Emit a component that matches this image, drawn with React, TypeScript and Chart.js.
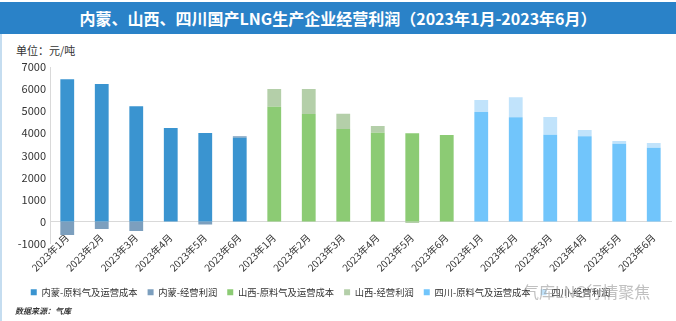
import React, { useEffect, useRef } from "react";
import { Chart, registerables, layouts } from "chart.js";

Chart.register(...registerables);

const months = ["2023年1月", "2023年2月", "2023年3月", "2023年4月", "2023年5月", "2023年6月"];
const categories = [...months, ...months, ...months];

const nmCost = [6450, 6230, 5220, 4236, 4010, 3800];
const nmProfit = [-610, -340, -420, 0, -130, 60];
const sxCost = [5200, 4870, 4190, 4025, 4000, 3920];
const sxProfit = [800, 1130, 690, 300, -60, 0];
const scCost = [4960, 4720, 3935, 3860, 3527, 3345];
const scProfit = [545, 905, 800, 286, 120, 212];

const yTicks = [-1000, 0, 1000, 2000, 3000, 4000, 5000, 6000, 7000];

const seriesNames = [
  "内蒙-原料气及运营成本",
  "内蒙-经营利润",
  "山西-原料气及运营成本",
  "山西-经营利润",
  "四川-原料气及运营成本",
  "四川-经营利润",
];
const seriesColors = ["#3a94d0", "#7c9fbe", "#8ccb74", "#b4cfa9", "#71c5fb", "#c1e3fb"];

const FONT = "'Noto Sans CJK SC', 'Noto Sans', sans-serif";

function place(values: number[], group: number): (number | null)[] {
  const out: (number | null)[] = categories.map(() => null);
  values.forEach((v, i) => {
    out[group * 6 + i] = v;
  });
  return out;
}

// reserves room below the plot for the x labels (the x axis itself sits at y = 0)
const spacerPlugin = {
  id: "labelSpacer",
  beforeInit(chart: any) {
    const box: any = {
      position: "bottom",
      weight: 500,
      fullSize: false,
      options: {},
      top: 0,
      left: 0,
      right: 0,
      bottom: 0,
      width: 0,
      height: 0,
      isHorizontal: () => true,
      update(maxWidth: number) {
        box.width = maxWidth;
        box.height = 34;
      },
      draw() {},
    };
    layouts.addBox(chart, box);
  },
};

export default function App() {
  const ref = useRef<HTMLCanvasElement | null>(null);

  useEffect(() => {
    if (!ref.current) return;
    const seriesData = [
      place(nmCost, 0),
      place(nmProfit, 0),
      place(sxCost, 1),
      place(sxProfit, 1),
      place(scCost, 2),
      place(scProfit, 2),
    ];
    const chart = new Chart(ref.current, {
      type: "bar",
      data: {
        labels: categories,
        datasets: seriesData.map((d, i) => ({
          label: seriesNames[i],
          data: d,
          backgroundColor: seriesColors[i],
          borderWidth: 0,
          stack: "s",
          categoryPercentage: 1,
          barPercentage: 0.4,
        })),
      },
      plugins: [spacerPlugin],
      options: {
        animation: false,
        responsive: false,
        maintainAspectRatio: false,
        layout: { padding: { left: -30, right: 5, top: 33, bottom: 14 } },
        plugins: {
          tooltip: { enabled: false },
          legend: {
            position: "bottom",
            labels: {
              boxWidth: 6,
              boxHeight: 6,
              padding: 10,
              color: "#333",
              font: { family: FONT, size: 9.3 },
            },
          },
        },
        scales: {
          x: {
            stacked: true,
            position: { y: 0 } as any,
            grid: { display: false },
            border: { display: true, color: "#d9d9d9", width: 1 },
            ticks: {
              minRotation: 45,
              maxRotation: 45,
              autoSkip: false,
              color: "#333",
              padding: 2,
              font: { family: FONT, size: 10 },
            },
          },
          y: {
            stacked: true,
            min: -1000,
            max: 7000,
            afterBuildTicks: (s: any) => {
              s.ticks = yTicks.map((v) => ({ value: v }));
            },
            grid: { display: false, drawTicks: false },
            border: { display: true, color: "#d9d9d9", width: 1 },
            ticks: {
              color: "#333",
              padding: 4,
              font: { family: FONT, size: 11 },
              callback: (v: any) => String(v),
            },
            afterFit: (s: any) => {
              s.width = 80;
            },
          },
        },
      },
    });
    return () => chart.destroy();
  }, []);

  return (
    <div
      style={{
        position: "absolute",
        left: 0,
        top: 0,
        width: 676,
        height: 321,
        background: "#fff",
        overflow: "hidden",
        fontFamily: FONT,
      }}
    >
      <div
        style={{
          position: "absolute",
          left: 0,
          top: 2,
          width: 676,
          height: 32,
          background: "#2a82c8",
          color: "#fff",
          fontWeight: "bold",
          fontSize: 16,
          lineHeight: "32px",
          textAlign: "center",
          whiteSpace: "nowrap",
        }}
      >
        内蒙、山西、四川国产LNG生产企业经营利润（2023年1月-2023年6月）
      </div>
      <div
        style={{
          position: "absolute",
          left: 0,
          top: 34,
          width: 2,
          height: 287,
          background: "#c5ddf0",
        }}
      />
      <div
        style={{
          position: "absolute",
          left: 16,
          top: 43,
          fontSize: 11,
          lineHeight: "14px",
          color: "#333",
          whiteSpace: "nowrap",
        }}
      >
        单位：元/吨
      </div>
      <canvas
        ref={ref}
        width={676}
        height={287}
        style={{ position: "absolute", left: 0, top: 34, width: 676, height: 287 }}
      />
      <div
        style={{
          position: "absolute",
          left: 15,
          top: 305,
          fontSize: 8,
          lineHeight: "11px",
          fontWeight: "bold",
          fontStyle: "italic",
          color: "#333",
          whiteSpace: "nowrap",
        }}
      >
        数据来源：气库
      </div>
      <div
        style={{
          position: "absolute",
          left: 523,
          top: 280,
          fontSize: 16,
          lineHeight: "22px",
          color: "rgba(150,150,150,0.6)",
          whiteSpace: "nowrap",
          pointerEvents: "none",
        }}
      >
        气库LNG行情聚焦
      </div>
    </div>
  );
}
